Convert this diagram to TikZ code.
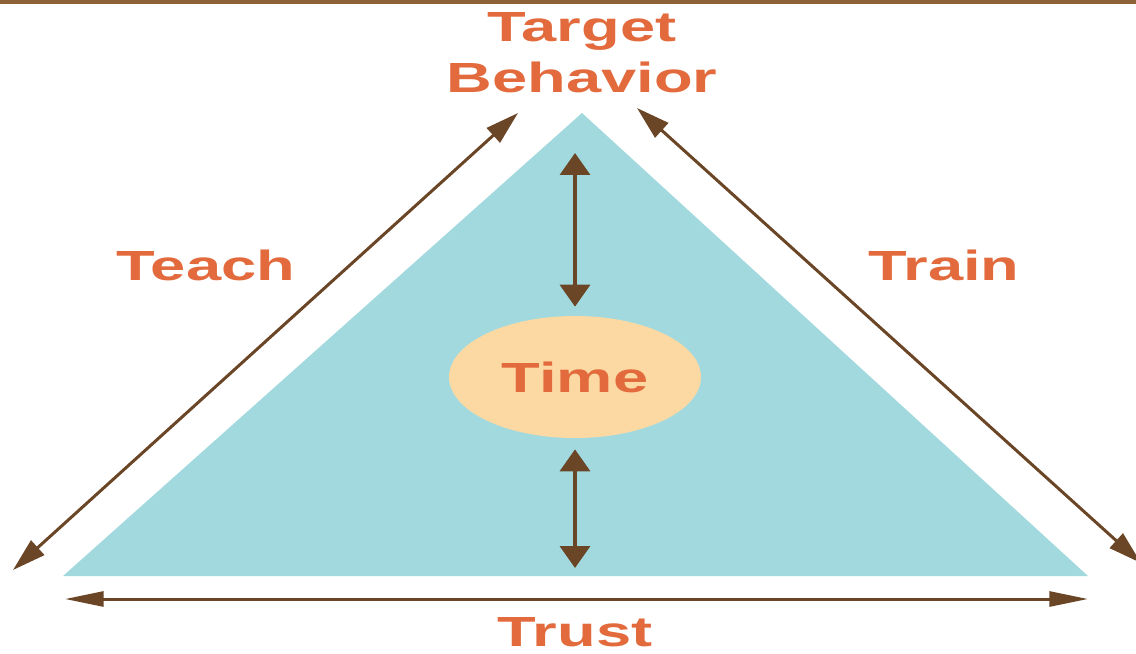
\documentclass[tikz,border=0pt]{standalone}
\usepackage{fontspec}
\usepackage{xcolor}
\usetikzlibrary{positioning,arrows.meta,shapes.geometric}
\newfontfamily\lblfont[FakeStretch=1.5]{Liberation Sans Bold}
\definecolor{barbrown}{HTML}{8E6238}
\definecolor{arrowbrown}{HTML}{6A4526}
\definecolor{labelorange}{HTML}{E26A3C}
\definecolor{tealfill}{HTML}{A2D9DE}
\definecolor{timefill}{HTML}{FCD9A2}

\begin{document}
\begin{tikzpicture}[x=0.02cm, y=-0.02cm,
    lbl/.style={font=\lblfont\fontsize{24}{28.5}\selectfont, text=labelorange, inner sep=0pt, align=center},
    sidearrow/.style={draw=arrowbrown, line width=1.7pt, {Triangle[length=19pt,width=11pt]}-{Triangle[length=19pt,width=11pt]}},
    basearrow/.style={draw=arrowbrown, line width=1.7pt, {Triangle[length=22pt,width=8.5pt]}-{Triangle[length=22pt,width=8.5pt]}},
    timearrow/.style={draw=arrowbrown, line width=2.2pt, {Triangle[length=12.5pt,width=17pt]}-{Triangle[length=12.5pt,width=17pt]}}]
    \useasboundingbox (0,0) rectangle (1136,653);
    % Top bar
    \fill[barbrown] (0,0) rectangle (1136,4);

    % Triangle
    \coordinate (apex) at (582,113);
    \coordinate (baseL) at (63,576);
    \coordinate (baseR) at (1088,576);
    \fill[tealfill] (apex) -- (baseR) -- (baseL) -- cycle;

    % Labels
    \node[lbl, anchor=base] (target) at (582,92) {Target\\Behavior};
    \node[lbl, anchor=base] (teach) at (206,280) {Teach};
    \node[lbl, anchor=base] (train) at (944,280) {Train};
    \node[lbl, anchor=base] (trust) at (575,646) {Trust};
    \node[lbl, ellipse, fill=timefill, minimum width=5.04cm, minimum height=2.44cm] (time) at (575,377) {Time};

    % Side arrows
    \coordinate (teachlo) at (13,570);
    \coordinate (teachhi) at (518,113);
    \coordinate (trainhi) at (637,108);
    \coordinate (trainlo) at (1141,563);
    \draw[sidearrow] (teachlo) -- (teachhi);
    \draw[sidearrow] (trainhi) -- (trainlo);

    % Base arrow
    \coordinate (trustL) at (65,599);
    \coordinate (trustR) at (1088,599);
    \draw[basearrow] (trustL) -- (trustR);

    % Vertical arrows
    \coordinate (vtop) at (575,153);
    \coordinate (vbot) at (575,568);
    \draw[timearrow, shorten >=0.18cm] (vtop) -- (time.north);
    \draw[timearrow, shorten <=0.22cm] (time.south) -- (vbot);
\end{tikzpicture}
\end{document}
